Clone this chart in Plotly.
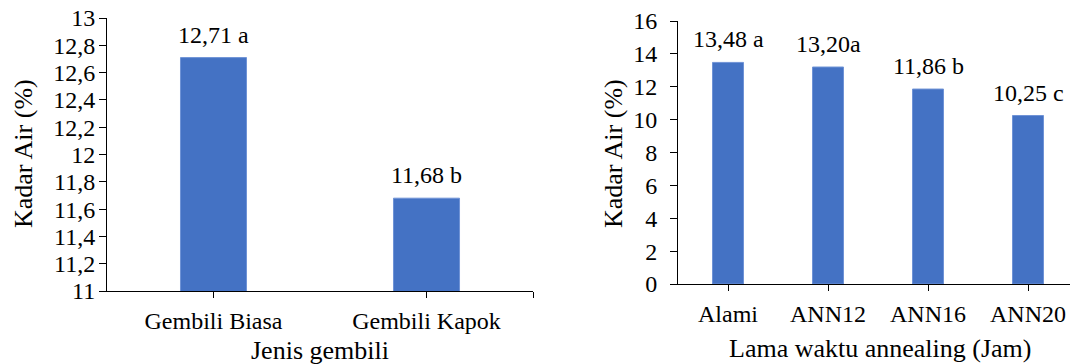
import plotly.graph_objects as go

# Moisture content by tuber type
jenis = ["Gembili Biasa", "Gembili Kapok"]
kadar_jenis = [12.71, 11.68]
notasi_jenis = [" a", " b"]

# Moisture content by annealing duration
perlakuan = ["Alami", "ANN12", "ANN16", "ANN20"]
kadar_annealing = [13.48, 13.20, 11.86, 10.25]
notasi_annealing = [" a", "a", " b", " c"]

FONT = "Liberation Serif"
BAR = "#4472C4"


def fmt(v, s):
    return f"{v:.2f}".replace(".", ",") + s


fig = go.Figure()

xa = list(range(len(jenis)))
xb = list(range(len(perlakuan)))

fig.add_trace(go.Bar(x=xa, y=kadar_jenis, width=0.31, marker=dict(color=BAR, line=dict(color="#6f93d6", width=1)),
                     xaxis="x", yaxis="y", showlegend=False))
fig.add_trace(go.Bar(x=xb, y=kadar_annealing, width=0.31, marker=dict(color=BAR, line=dict(color="#6f93d6", width=1)),
                     xaxis="x2", yaxis="y2", showlegend=False))

ann = []
for x, v, s in zip(xa, kadar_jenis, notasi_jenis):
    ann.append(dict(x=x, y=v, xref="x", yref="y", text=fmt(v, s), showarrow=False,
                    xanchor="center", yanchor="bottom", yshift=8,
                    font=dict(size=24, color="#000", family=FONT)))
for x, v, s in zip(xb, kadar_annealing, notasi_annealing):
    ann.append(dict(x=x, y=v, xref="x2", yref="y2", text=fmt(v, s), showarrow=False,
                    xanchor="center", yanchor="bottom", yshift=8,
                    font=dict(size=24, color="#000", family=FONT)))

# axis titles
title_font = dict(size=26, color="#000", family=FONT)
ann += [
    dict(x=23 / 1070, y=1 - 154 / 364, xref="paper", yref="paper", text="Kadar Air (%)", textangle=-90,
         xanchor="center", yanchor="middle", showarrow=False, font=title_font),
    dict(x=613 / 1070, y=1 - 154 / 364, xref="paper", yref="paper", text="Kadar Air (%)", textangle=-90,
         xanchor="center", yanchor="middle", showarrow=False, font=title_font),
    dict(x=320 / 1070, y=1 - 350 / 364, xref="paper", yref="paper", text="Jenis gembili",
         xanchor="center", yanchor="middle", showarrow=False, font=title_font),
    dict(x=880 / 1070, y=1 - 348 / 364, xref="paper", yref="paper", text="Lama waktu annealing (Jam)",
         xanchor="center", yanchor="middle", showarrow=False, font=title_font),
]

axis_common = dict(showgrid=False, zeroline=False, showline=True, linecolor="#000", linewidth=1,
                   ticks="outside", tickcolor="#000", tickwidth=1, automargin=False,
                   tickfont=dict(size=24, color="#000", family=FONT))

fig.update_layout(
    template="none",
    width=1070, height=364,
    margin=dict(l=0, r=0, t=0, b=0, pad=0),
    paper_bgcolor="white", plot_bgcolor="white",
    separators=",.",
    font=dict(family=FONT, color="#000"),
    annotations=ann,
    xaxis=dict(domain=[107 / 1070, 533 / 1070], range=[-0.5, 1.5], tickvals=[0, 1, 1.5],
               ticktext=jenis + [""], anchor="y", ticklen=6, ticklabelstandoff=2, **axis_common),
    yaxis=dict(domain=[1 - 291 / 364, 1 - 18 / 364], range=[11, 13], dtick=0.2, anchor="x",
               ticklen=7, ticklabelstandoff=-1, **axis_common),
    xaxis2=dict(domain=[678 / 1070, 1.0], range=[-0.5, 3.42], tickvals=xb, ticktext=perlakuan,
                anchor="y2", ticklen=6, ticklabelstandoff=2, **axis_common),
    yaxis2=dict(domain=[1 - 284 / 364, 1 - 21 / 364], range=[0, 16], dtick=2, anchor="x2",
                ticklen=7, ticklabelstandoff=8, **axis_common),
)

fig.write_html("out.html")
